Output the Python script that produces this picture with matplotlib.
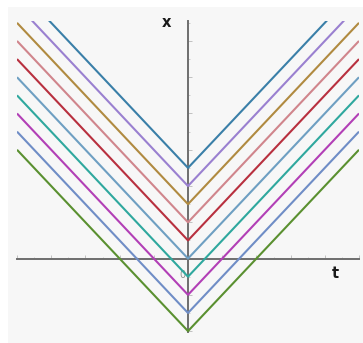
import numpy as np
import matplotlib
matplotlib.use("Agg")
import matplotlib.pyplot as plt

# Family of curves x = |t| + c
offsets = [5, 4, 3, 2, 1, 0, -1, -2, -3, -4]
colors = ["#3a7fa8", "#9a80d0", "#b08a40", "#d0858c", "#b8303f",
          "#6e9fc2", "#2fa89e", "#b23fb6", "#6f8dc6", "#5a9030"]
t_range = [-10, 10]
x_range = [-4.05, 13.1]

fig = plt.figure(figsize=(3.63, 3.43), dpi=100)
fig.patch.set_facecolor("white")

# light panel behind the plot
bg = fig.add_axes([8 / 363, 0, 1 - 8 / 363, 1 - 7 / 343], zorder=0)
bg.set_axis_off()
bg.add_patch(plt.Rectangle((0, 0), 1, 1, transform=bg.transAxes,
                           facecolor="#f7f7f7", edgecolor="none"))

ax = fig.add_axes([17 / 363, 11 / 343, 342 / 363, 311 / 343], zorder=1)
ax.set_facecolor("none")

t = np.linspace(t_range[0], t_range[1], 401)
for c, col in zip(offsets, colors):
    ax.plot(t, np.abs(t) + c, color=col, lw=1.5, solid_capstyle="butt",
            clip_on=True, zorder=3)

ax.set_xlim(*t_range)
ax.set_ylim(*x_range)

for side in ("top", "right"):
    ax.spines[side].set_visible(False)
for side in ("left", "bottom"):
    ax.spines[side].set_position(("data", 0))
    ax.spines[side].set_color("#6e6e6e")
    ax.spines[side].set_linewidth(1.4)
    ax.spines[side].set_zorder(2)

ax.set_xticks(np.arange(-10, 11, 2))
ax.set_yticks(np.arange(-4, 14, 2))
ax.set_xticks(np.arange(-10, 10.1, 1), minor=True)
ax.set_yticks(np.arange(-4, 13.1, 1), minor=True)
ax.tick_params(which="both", direction="in", colors="#b8b8b8",
               labelleft=False, labelbottom=False)
ax.tick_params(which="major", length=3, width=0.6)
ax.tick_params(which="minor", length=1.5, width=0.5)

ax.text(-0.35, -0.9, "0", fontsize=7, color="#909090", ha="center", va="center",
        zorder=1)
ax.text(-1.25, 13.0, "x", fontsize=10.5, fontweight="bold", color="#1a1a1a",
        ha="center", va="center")
ax.text(8.6, -0.8, "t", fontsize=10.5, fontweight="bold", color="#1a1a1a",
        ha="center", va="center")

fig.savefig("out.png", dpi=100)
